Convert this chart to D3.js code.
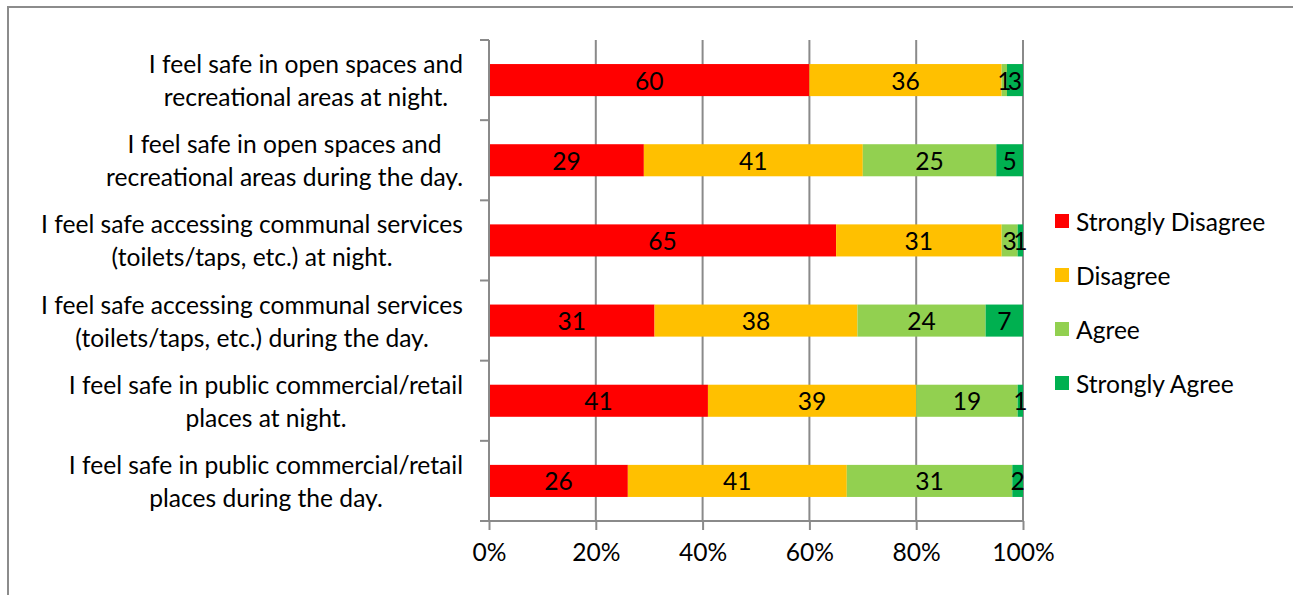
<!DOCTYPE html>
<html>
<head>
<meta charset="utf-8">
<script src="https://cdn.jsdelivr.net/npm/d3@7/dist/d3.min.js"></script>
<style>
  html, body { margin: 0; padding: 0; background: #fff; }
  svg { display: block; }
  text { font-family: Lato, "Open Sans", sans-serif; fill: #000; }
</style>
</head>
<body>
<svg id="chart" width="1294" height="595"></svg>
<script>
// Survey statements (top to bottom), each split into its two display lines
const categories = [
  "I feel safe in open spaces and|recreational areas at night.",
  "I feel safe in open spaces and|recreational areas during the day.",
  "I feel safe accessing communal services|(toilets/taps, etc.) at night.",
  "I feel safe accessing communal services|(toilets/taps, etc.) during the day.",
  "I feel safe in public commercial/retail|places at night.",
  "I feel safe in public commercial/retail|places during the day."
];
const seriesNames = ["Strongly Disagree", "Disagree", "Agree", "Strongly Agree"];
const stronglyDisagree = [60, 29, 65, 31, 41, 26];
const disagree         = [36, 41, 31, 38, 39, 41];
const agree            = [1, 25, 3, 24, 19, 31];
const stronglyAgree    = [3, 5, 1, 7, 1, 2];
const xTicks = [0, 20, 40, 60, 80, 100];
const colors = ["#FF0000", "#FFC000", "#92D050", "#00B050"];

const seriesValues = [stronglyDisagree, disagree, agree, stronglyAgree];
const rows = categories.map((c, i) => {
  const r = { category: c };
  seriesNames.forEach((s, k) => { r[s] = seriesValues[k][i]; });
  return r;
});

const svg = d3.select("#chart");
const FS = 24.6;
const plot = { left: 489, right: 1023, top: 40, bottom: 521 };
const axisColor = "#8a8a8a";

// Outer frame (top and left edges)
svg.append("path")
  .attr("d", "M8,595 L8,7 L1293,7")
  .attr("fill", "none").attr("stroke", "#8c8c8c").attr("stroke-width", 2);

const x = d3.scaleLinear().domain([0, 100]).range([plot.left, plot.right]);
const y = d3.scaleBand().domain(categories).range([plot.top, plot.bottom])
  .paddingInner(0.6).paddingOuter(0.3);

// Vertical gridlines
svg.append("g").selectAll("line").data(xTicks.slice(1)).join("line")
  .attr("x1", d => x(d)).attr("x2", d => x(d))
  .attr("y1", plot.top).attr("y2", plot.bottom)
  .attr("stroke", axisColor).attr("stroke-width", 2);

// Stacked bars
const stack = d3.stack().keys(seriesNames);
const stacked = stack(rows);

const layers = svg.append("g").selectAll("g").data(stacked).join("g")
  .attr("fill", (d, i) => colors[i]);
layers.selectAll("rect").data(d => d).join("rect")
  .attr("x", d => x(d[0]))
  .attr("width", d => x(d[1]) - x(d[0]))
  .attr("y", d => y(d.data.category))
  .attr("height", y.bandwidth());

// Value labels centred in each segment
const lbl = svg.append("g");
stacked.forEach(layer => {
  layer.forEach(d => {
    const v = d[1] - d[0];
    lbl.append("text")
      .attr("x", x((d[0] + d[1]) / 2))
      .attr("y", y(d.data.category) + y.bandwidth() / 2)
      .attr("text-anchor", "middle")
      .attr("dominant-baseline", "central")
      .attr("font-size", FS)
      .text(v);
  });
});

// Y axis line and band-boundary ticks
svg.append("line")
  .attr("x1", plot.left).attr("x2", plot.left)
  .attr("y1", plot.top).attr("y2", plot.bottom)
  .attr("stroke", axisColor).attr("stroke-width", 2);
const bandEdges = d3.range(categories.length + 1).map(i => plot.top + i * (plot.bottom - plot.top) / categories.length);
svg.append("g").selectAll("line").data(bandEdges).join("line")
  .attr("x1", plot.left - 9).attr("x2", plot.left)
  .attr("y1", d => d).attr("y2", d => d)
  .attr("stroke", axisColor).attr("stroke-width", 2);

// X axis
const xAxis = d3.axisBottom(x).tickValues(xTicks).tickFormat(d => d + "%")
  .tickSize(9).tickSizeOuter(0).tickPadding(14);
const gx = svg.append("g").attr("transform", `translate(0,${plot.bottom})`).call(xAxis);
gx.select(".domain").attr("stroke", axisColor).attr("stroke-width", 2)
  .attr("d", `M${plot.left - 9},0H${plot.right}`);
gx.selectAll(".tick line").attr("stroke", axisColor).attr("stroke-width", 2);
gx.selectAll(".tick text").attr("font-size", FS).attr("font-family", "Lato, 'Open Sans', sans-serif").attr("fill", "#000");

// Category labels: two centred lines, block right-aligned to the axis
const labelRight = 463;
const lineGap = 33;
categories.forEach(c => {
  const lines = c.split("|");
  const g = svg.append("g");
  const texts = lines.map((ln, i) => g.append("text")
    .attr("font-size", FS)
    .attr("text-anchor", "middle")
    .attr("dominant-baseline", "central")
    .attr("y", y(c) + y.bandwidth() / 2 + (i - (lines.length - 1) / 2) * lineGap)
    .text(ln));
  const maxW = d3.max(texts, t => t.node().getComputedTextLength());
  texts.forEach(t => t.attr("x", labelRight - maxW / 2));
});

// Legend
const legend = svg.append("g");
const legendY = [221, 275, 329, 383];
seriesNames.forEach((s, i) => {
  legend.append("rect")
    .attr("x", 1055).attr("y", legendY[i] - 7)
    .attr("width", 14).attr("height", 14)
    .attr("fill", colors[i]);
  legend.append("text")
    .attr("x", 1076).attr("y", legendY[i])
    .attr("dominant-baseline", "central")
    .attr("font-size", FS)
    .text(s);
});
</script>
</body>
</html>
